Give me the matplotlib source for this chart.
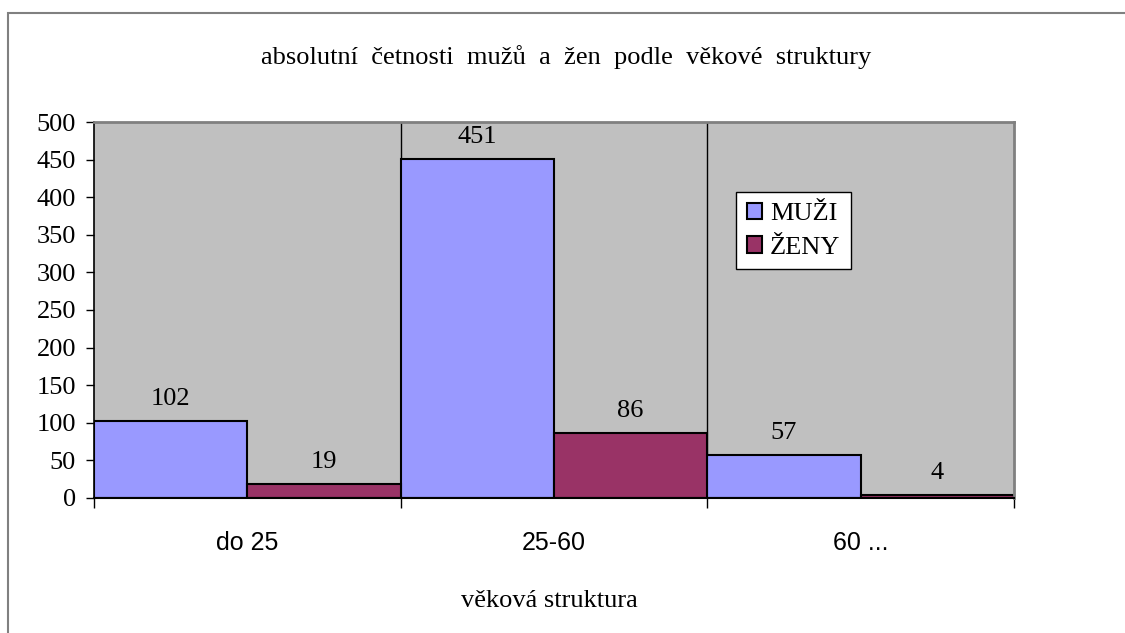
import matplotlib
matplotlib.use("Agg")
import matplotlib.pyplot as plt
from matplotlib.patches import Rectangle
import numpy as np

categories = ["do 25", "25-60", "60 ..."]
muzi = [102, 451, 57]
zeny = [19, 86, 4]
yticks = [0, 50, 100, 150, 200, 250, 300, 350, 400, 450, 500]

serif = "Liberation Serif"
sans = "Liberation Sans"
fs = 19

fig = plt.figure(figsize=(11.25, 6.33), dpi=100)
# outer chart border (only top and left visible in the reference)
fig.add_artist(Rectangle((8 / 1125, -0.1), 1.2, 1 - 13 / 633 + 0.1,
                         transform=fig.transFigure, fill=False,
                         edgecolor="#808080", lw=1.5))

ax = fig.add_axes([94 / 1125, 1 - 498 / 633, 920 / 1125, 376 / 633])
ax.set_facecolor("#C0C0C0")

x = np.arange(len(categories))
w = 0.5
b1 = ax.bar(x - w / 2, muzi, w, color="#9999FF", edgecolor="black", lw=1.5, label="MUŽI")
b2 = ax.bar(x + w / 2, zeny, w, color="#993366", edgecolor="black", lw=1.5, label="ŽENY")

for bars, vals in ((b1, muzi), (b2, zeny)):
    for r, v in zip(bars, vals):
        ax.annotate(str(v), (r.get_x() + r.get_width() / 2, v), xytext=(0, 11.5),
                    textcoords="offset points", ha="center", va="baseline",
                    fontsize=fs, family=serif)

ax.set_xlim(-0.5, 2.5)
ax.set_ylim(0, 500)
ax.set_yticks(yticks)
ax.set_yticklabels([str(t) for t in yticks], family=serif, fontsize=fs)

# ticks at category boundaries, labels centred
ax.set_xticks([-0.5, 0.5, 1.5, 2.5])
ax.set_xticklabels([])
ax.set_xticks(x, minor=True)
ax.set_xticklabels(categories, minor=True, family=sans, fontsize=18)
ax.tick_params(axis="x", which="minor", length=0, pad=24)
ax.tick_params(axis="x", which="major", length=7, width=1, direction="out")
ax.tick_params(axis="y", length=6, width=1, direction="out", pad=7)

for xb in [0.5, 1.5]:
    ax.axvline(xb, color="black", lw=1, zorder=0.5)

ax.spines["top"].set_color("#808080")
ax.spines["right"].set_color("#808080")
ax.spines["top"].set_linewidth(2)
ax.spines["right"].set_linewidth(2)
ax.spines["left"].set_linewidth(1.2)
ax.spines["bottom"].set_linewidth(1.5)

fig.text(566 / 1125, 1 - 57 / 633, "absolutní  četnosti  mužů  a  žen  podle  věkové  struktury",
         ha="center", va="center", family=serif, fontsize=fs)
fig.text(549 / 1125, 1 - 601 / 633, "věková struktura", ha="center", va="center",
         family=serif, fontsize=fs)

leg = ax.legend(loc="upper left", prop={"family": serif, "size": fs},
                frameon=True, fancybox=False, framealpha=1, edgecolor="black",
                handlelength=0.58, handleheight=0.58, handletextpad=0.3,
                borderpad=0.4, labelspacing=0.42, borderaxespad=0)
leg.set_bbox_to_anchor((736 / 1125, 1 - 192 / 633), transform=fig.transFigure)
leg.get_frame().set_linewidth(1)

fig.savefig("out.png", dpi=100)
